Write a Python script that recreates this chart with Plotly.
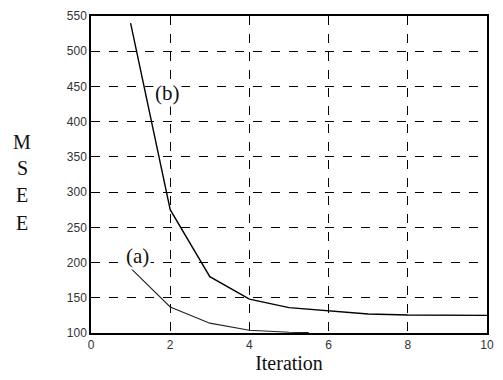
import plotly.graph_objects as go

iter_b = [1, 2, 3, 4, 5, 6, 7, 8, 9, 10]
mse_b = [540, 275, 180, 148, 136, 131, 127, 125.5, 125, 125]
iter_a = [1, 2, 3, 4, 5, 5.5]
mse_a = [192, 137, 114, 104, 101, 100.5]

x_ticks = [0, 2, 4, 6, 8, 10]
y_ticks = [100, 150, 200, 250, 300, 350, 400, 450, 500, 550]
y_title_letters = ["M", "S", "E", "E"]
y_title_pos = [0.604, 0.522, 0.436, 0.348]

fig = go.Figure()
fig.add_trace(go.Scatter(x=iter_a, y=mse_a, mode="lines",
                         line=dict(color="#222", width=1.1), showlegend=False))
fig.add_trace(go.Scatter(x=iter_b, y=mse_b, mode="lines",
                         line=dict(color="#000", width=1.4), showlegend=False))

serif = "Liberation Serif, Times New Roman, serif"
sans = "Liberation Sans, Arial, sans-serif"

fig.add_annotation(x=1.94, y=440, text="(b)", showarrow=False,
                   font=dict(family=serif, size=21, color="#111"), bgcolor="white")
fig.add_annotation(x=1.17, y=210, text="(a)", showarrow=False,
                   font=dict(family=serif, size=21, color="#111"), bgcolor="white")
for letter, yp in zip(y_title_letters, y_title_pos):
    fig.add_annotation(xref="paper", yref="paper", x=-0.174, y=yp, xanchor="center",
                       yanchor="middle", text=letter, showarrow=False,
                       font=dict(family=serif, size=20, color="#111"))

fig.update_layout(
    width=503, height=380,
    margin=dict(l=91, r=9, t=16, b=46),
    paper_bgcolor="white", plot_bgcolor="white",
    xaxis=dict(range=[0, 10], tickvals=x_ticks, ticks="", showline=True,
               linecolor="black", linewidth=1.5, mirror=True,
               showgrid=True, gridcolor="black", griddash="dash", gridwidth=1,
               zeroline=False,
               tickfont=dict(family=sans, size=12, color="#333"),
               title=dict(text="Iteration", font=dict(family=serif, size=20, color="#111"),
                          standoff=5)),
    yaxis=dict(range=[100, 550], tickvals=y_ticks, ticks="", showline=True,
               linecolor="black", linewidth=1.5, mirror=True,
               showgrid=True, gridcolor="black", griddash="dash", gridwidth=1,
               zeroline=False,
               tickfont=dict(family=sans, size=12, color="#333")),
)

fig.write_html("out.html")
